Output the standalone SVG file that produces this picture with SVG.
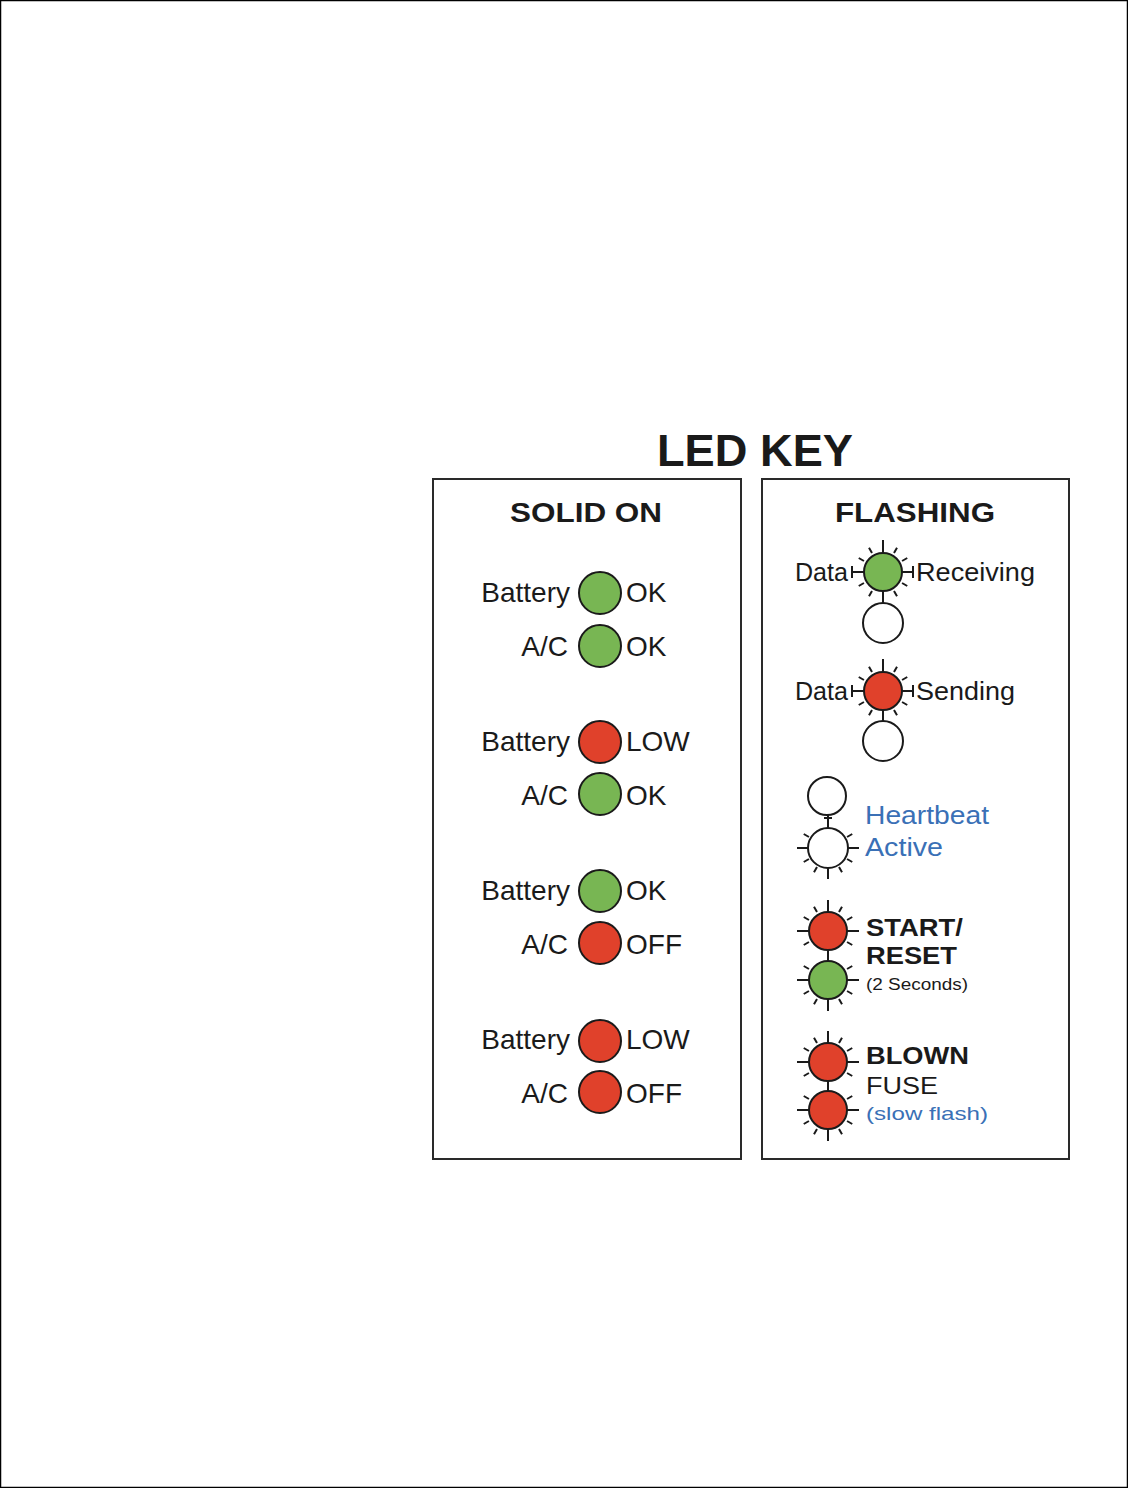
<svg xmlns="http://www.w3.org/2000/svg" xmlns:xlink="http://www.w3.org/1999/xlink" width="1128" height="1488" viewBox="0 0 1128 1488">
<style>
.t{font-family:"Liberation Sans",Arial,sans-serif;fill:#1a1a1a}
.b{font-weight:bold}
.lbl{font-size:28px}
.fl{font-size:26px}
.blue{fill:#3a70b6}
.panel{fill:none;stroke:#2a2a2a;stroke-width:2}
.led{stroke:#1a1a1a;stroke-width:2}
.g{fill:#78b653}
.r{fill:#e0412b}
.w{fill:#ffffff}
.ray{stroke:#1a1a1a;stroke-width:2;fill:none}
</style>
<defs>
<path id="diag" class="ray" d="M19.05,11L24.25,14M11,19.05L14,24.25M-11,19.05L-14,24.25M-19.05,11L-24.25,14M-19.05,-11L-24.25,-14M-11,-19.05L-14,-24.25M11,-19.05L14,-24.25M19.05,-11L24.25,-14"/>
<path id="dtop" class="ray" d="M19.05,11L24.25,14M-19.05,11L-24.25,14M-19.05,-11L-24.25,-14M-11,-19.05L-14,-24.25M11,-19.05L14,-24.25M19.05,-11L24.25,-14"/>
<path id="dbot" class="ray" d="M19.05,11L24.25,14M11,19.05L14,24.25M-11,19.05L-14,24.25M-19.05,11L-24.25,14M-19.05,-11L-24.25,-14M19.05,-11L24.25,-14"/>
<path id="rt" class="ray" d="M0,-19V-31"/>
<path id="rb" class="ray" d="M0,19V31"/>
<path id="rl" class="ray" d="M-19,0H-31"/>
<path id="rr" class="ray" d="M19,0H31"/>
</defs>
<rect x="0.5" y="0.5" width="1127" height="1487" fill="#ffffff" stroke="#000000" stroke-width="1.5"/>
<g id="title"><text class="t b" x="755" y="466" font-size="44" text-anchor="middle" textLength="196" lengthAdjust="spacingAndGlyphs">LED KEY</text></g>

<g id="panel-solid">
<rect class="panel" x="433" y="479" width="308" height="680"/>
<text class="t b" x="586" y="522" font-size="28" text-anchor="middle" textLength="152" lengthAdjust="spacingAndGlyphs">SOLID ON</text>
</g>
<g id="panel-flashing">
<rect class="panel" x="762" y="479" width="307" height="680"/>
<text class="t b" x="915" y="522" font-size="28" text-anchor="middle" textLength="160" lengthAdjust="spacingAndGlyphs">FLASHING</text>
</g>

<g id="solid-1">
<text class="t lbl" x="570" y="602" text-anchor="end">Battery</text>
<circle class="led g" cx="600" cy="593" r="21"/>
<text class="t lbl" x="626" y="602">OK</text>
<text class="t lbl" x="568" y="656" text-anchor="end">A/C</text>
<circle class="led g" cx="600" cy="646" r="21"/>
<text class="t lbl" x="626" y="656">OK</text>
</g>
<g id="solid-2">
<text class="t lbl" x="570" y="751" text-anchor="end">Battery</text>
<circle class="led r" cx="600" cy="742" r="21"/>
<text class="t lbl" x="626" y="751">LOW</text>
<text class="t lbl" x="568" y="805" text-anchor="end">A/C</text>
<circle class="led g" cx="600" cy="794" r="21"/>
<text class="t lbl" x="626" y="805">OK</text>
</g>
<g id="solid-3">
<text class="t lbl" x="570" y="900" text-anchor="end">Battery</text>
<circle class="led g" cx="600" cy="891" r="21"/>
<text class="t lbl" x="626" y="900">OK</text>
<text class="t lbl" x="568" y="954" text-anchor="end">A/C</text>
<circle class="led r" cx="600" cy="943" r="21"/>
<text class="t lbl" x="626" y="954">OFF</text>
</g>
<g id="solid-4">
<text class="t lbl" x="570" y="1049" text-anchor="end">Battery</text>
<circle class="led r" cx="600" cy="1041" r="21"/>
<text class="t lbl" x="626" y="1049">LOW</text>
<text class="t lbl" x="568" y="1103" text-anchor="end">A/C</text>
<circle class="led r" cx="600" cy="1092" r="21"/>
<text class="t lbl" x="626" y="1103">OFF</text>
</g>

<g id="flash-receiving">
<text class="t fl" x="848" y="581" text-anchor="end" textLength="53" lengthAdjust="spacingAndGlyphs">Data</text>
<path class="ray" d="M852,572H864M852,566V578M902,572H913M913,566V578M883,553V540M883,591V603"/>
<use xlink:href="#diag" transform="translate(883,572)"/>
<circle class="led g" cx="883" cy="572" r="19"/>
<circle class="led w" cx="883" cy="623" r="20"/>
<text class="t fl" x="916" y="581" textLength="119" lengthAdjust="spacingAndGlyphs">Receiving</text>
</g>
<g id="flash-sending">
<text class="t fl" x="848" y="700" text-anchor="end" textLength="53" lengthAdjust="spacingAndGlyphs">Data</text>
<path class="ray" d="M852,691H864M852,685V697M902,691H913M913,685V697M883,672V659M883,710V722"/>
<use xlink:href="#diag" transform="translate(883,691)"/>
<circle class="led r" cx="883" cy="691" r="19"/>
<circle class="led w" cx="883" cy="741" r="20"/>
<text class="t fl" x="916" y="700" textLength="99" lengthAdjust="spacingAndGlyphs">Sending</text>
</g>
<g id="flash-heartbeat">
<circle class="led w" cx="827" cy="796" r="19"/>
<path class="ray" d="M828,815V829M824,818H832"/>
<use xlink:href="#dbot" transform="translate(828,848)"/>
<use xlink:href="#rl" transform="translate(828,848)"/>
<use xlink:href="#rr" transform="translate(828,848)"/>
<use xlink:href="#rb" transform="translate(828,848)"/>
<circle class="led w" cx="828" cy="848" r="20"/>
<text class="t fl blue" x="865" y="824" textLength="124" lengthAdjust="spacingAndGlyphs">Heartbeat</text>
<text class="t fl blue" x="865" y="856" textLength="78" lengthAdjust="spacingAndGlyphs">Active</text>
</g>
<g id="flash-start-reset">
<use xlink:href="#dtop" transform="translate(828,931)"/>
<use xlink:href="#rt" transform="translate(828,931)"/>
<use xlink:href="#rl" transform="translate(828,931)"/>
<use xlink:href="#rr" transform="translate(828,931)"/>
<circle class="led r" cx="828" cy="931" r="19"/>
<path class="ray" d="M828,950V962"/>
<use xlink:href="#dbot" transform="translate(828,980)"/>
<use xlink:href="#rb" transform="translate(828,980)"/>
<use xlink:href="#rl" transform="translate(828,980)"/>
<use xlink:href="#rr" transform="translate(828,980)"/>
<circle class="led g" cx="828" cy="980" r="19"/>
<text class="t b" x="866" y="936" font-size="24" textLength="97" lengthAdjust="spacingAndGlyphs">START/</text>
<text class="t b" x="866" y="964" font-size="24" textLength="91" lengthAdjust="spacingAndGlyphs">RESET</text>
<text class="t" x="866" y="990" font-size="16" textLength="102" lengthAdjust="spacingAndGlyphs">(2 Seconds)</text>
</g>
<g id="flash-blown-fuse">
<use xlink:href="#dtop" transform="translate(828,1062)"/>
<use xlink:href="#rt" transform="translate(828,1062)"/>
<use xlink:href="#rl" transform="translate(828,1062)"/>
<use xlink:href="#rr" transform="translate(828,1062)"/>
<circle class="led r" cx="828" cy="1062" r="19"/>
<path class="ray" d="M828,1081V1091"/>
<use xlink:href="#dbot" transform="translate(828,1110)"/>
<use xlink:href="#rb" transform="translate(828,1110)"/>
<use xlink:href="#rl" transform="translate(828,1110)"/>
<use xlink:href="#rr" transform="translate(828,1110)"/>
<circle class="led r" cx="828" cy="1110" r="19"/>
<text class="t b" x="866" y="1064" font-size="24" textLength="103" lengthAdjust="spacingAndGlyphs">BLOWN</text>
<text class="t" x="866" y="1094" font-size="24" textLength="72" lengthAdjust="spacingAndGlyphs">FUSE</text>
<text class="t blue" x="866" y="1120" font-size="19" textLength="122" lengthAdjust="spacingAndGlyphs">(slow flash)</text>
</g>
</svg>
